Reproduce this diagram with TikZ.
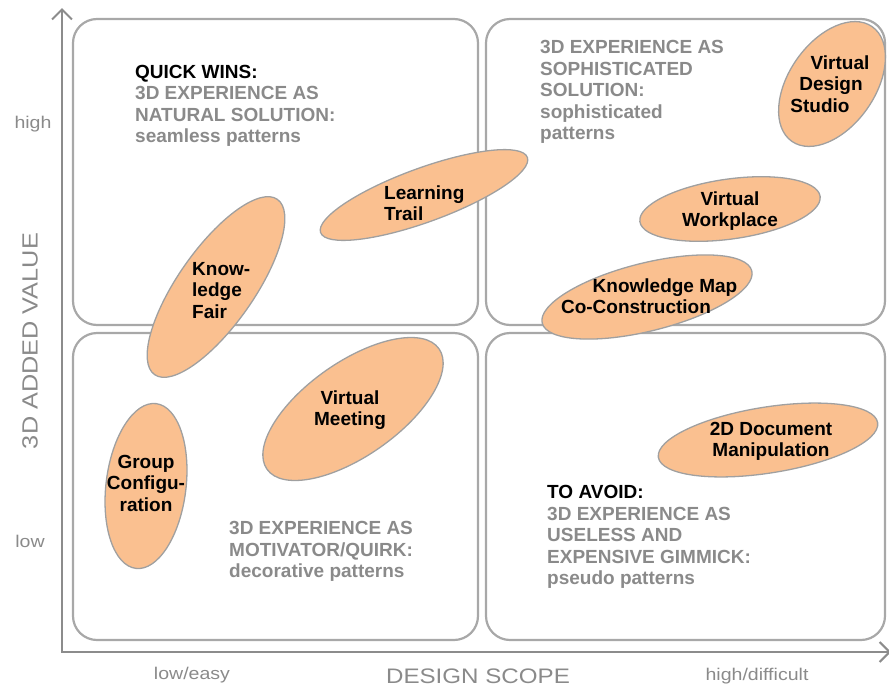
\documentclass[tikz,border=0pt]{standalone}
\usepackage{fontspec}
\setmainfont{Liberation Sans}
\newfontfamily\axisfont[FakeStretch=1.15]{Liberation Sans}
\usetikzlibrary{shapes.geometric,arrows.meta}
\definecolor{peach}{HTML}{FAC090}
\definecolor{edgegray}{HTML}{A0A0A0}
\definecolor{boxgray}{HTML}{A8A8A8}
\definecolor{axisgray}{HTML}{8C8C8C}
\definecolor{txtgray}{HTML}{8A8A8A}
\begin{document}
\begin{tikzpicture}[x=1pt,y=-1pt,
  quad/.style={draw=boxgray, line width=2.2pt, rounded corners=24pt},
  axisline/.style={draw=axisgray, line width=2.6pt, line join=miter,
    {Straight Barb[length=10pt,width=20pt,line width=2pt]}-{Straight Barb[length=10pt,width=20pt,line width=2pt]}},
  blob/.style={ellipse, draw=edgegray, line width=1.3pt, fill=peach, inner sep=0pt},
  lbl/.style={font=\bfseries\fontsize{19}{21.5}\selectfont, text=black, inner sep=0pt, align=center},
  qtxt/.style={font=\bfseries\fontsize{19}{21.5}\selectfont, text=txtgray, inner sep=0pt, align=left, anchor=base west},
  axlbl/.style={font=\axisfont\fontsize{17}{20}\selectfont, text=txtgray, inner sep=0pt}
]
\useasboundingbox (0,0) rectangle (889,691);

% quadrant boxes
\draw[quad] (73,19) rectangle (478,325);
\draw[quad] (486,19) rectangle (885,325);
\draw[quad] (73,333) rectangle (478,640);
\draw[quad] (486,333) rectangle (885,640);

% axes
\coordinate (O) at (62,652);
\coordinate (ytop) at (62,8);
\coordinate (xend) at (891,652);
\draw[axisline] (ytop) -- (O) -- (xend);

% ellipses
\node[blob, minimum width=140pt, minimum height=86pt, rotate=55] (vds) at (832,84) {};
\node[blob, minimum width=220pt, minimum height=54pt, rotate=20] (lt) at (424,195) {};
\node[blob, minimum width=214pt, minimum height=76pt, rotate=55] (kf) at (216,287) {};
\node[blob, minimum width=182pt, minimum height=60pt, rotate=8] (vw) at (730,209) {};
\node[blob, minimum width=216pt, minimum height=68pt, rotate=14] (km) at (647,297) {};
\node[blob, minimum width=210pt, minimum height=94pt, rotate=35] (vm) at (353,409) {};
\node[blob, minimum width=166pt, minimum height=80pt, rotate=83] (gc) at (146,486) {};
\node[blob, minimum width=222pt, minimum height=66pt, rotate=9] (dd) at (768,440) {};

% ellipse labels (anchor = baseline of the last line)
\node[lbl, anchor=base] (vdsL) at (831,112) {\hspace*{18pt}Virtual\\Design\\Studio\hspace*{22pt}};
\node[lbl, align=left, anchor=base west] (ltL) at (384,220.5) {Learning\\Trail};
\node[lbl, align=left, anchor=base west] (kfL) at (192,318) {Know-\\ledge\\Fair};
\node[lbl, anchor=base] (vwL) at (730,226.5) {Virtual\\Workplace};
\node[lbl, anchor=base] (kmL) at (650,313.5) {\hspace*{30pt}Knowledge Map\\Co-Construction\hspace*{28pt}};
\node[lbl, anchor=base] (vmL) at (350,425.5) {Virtual\\Meeting};
\node[lbl, anchor=base] (gcL) at (146,511) {Group\\Configu-\\ration};
\node[lbl, anchor=base] (ddL) at (771,456.5) {2D Document\\Manipulation};

% quadrant texts
\node[qtxt] (q1) at (135,142.5) {\textcolor{black}{QUICK WINS:}\\3D EXPERIENCE AS\\NATURAL SOLUTION:\\seamless patterns};
\node[qtxt] (q2) at (540,139.5) {3D EXPERIENCE AS\\SOPHISTICATED\\SOLUTION:\\sophisticated\\patterns};
\node[qtxt] (q3) at (229,577.5) {3D EXPERIENCE AS\\MOTIVATOR/QUIRK:\\decorative patterns};
\node[qtxt] (q4) at (547,584.5) {\textcolor{black}{TO AVOID:}\\3D EXPERIENCE AS\\USELESS AND\\EXPENSIVE GIMMICK:\\pseudo patterns};

% axis labels
\node[axlbl, anchor=base] (hi) at (33,128) {high};
\node[axlbl, anchor=base] (lo) at (30,547) {low};
\node[axlbl, rotate=90, font=\axisfont\fontsize{22}{24}\selectfont] (yl) at (30,341) {3D ADDED VALUE};
\node[axlbl, anchor=base] (xl1) at (192,679) {low/easy};
\node[axlbl, anchor=base, font=\axisfont\fontsize{21}{24}\selectfont] (xl) at (478,683) {DESIGN SCOPE};
\node[axlbl, anchor=base] (xl2) at (757,680) {high/difficult};
\end{tikzpicture}
\end{document}
